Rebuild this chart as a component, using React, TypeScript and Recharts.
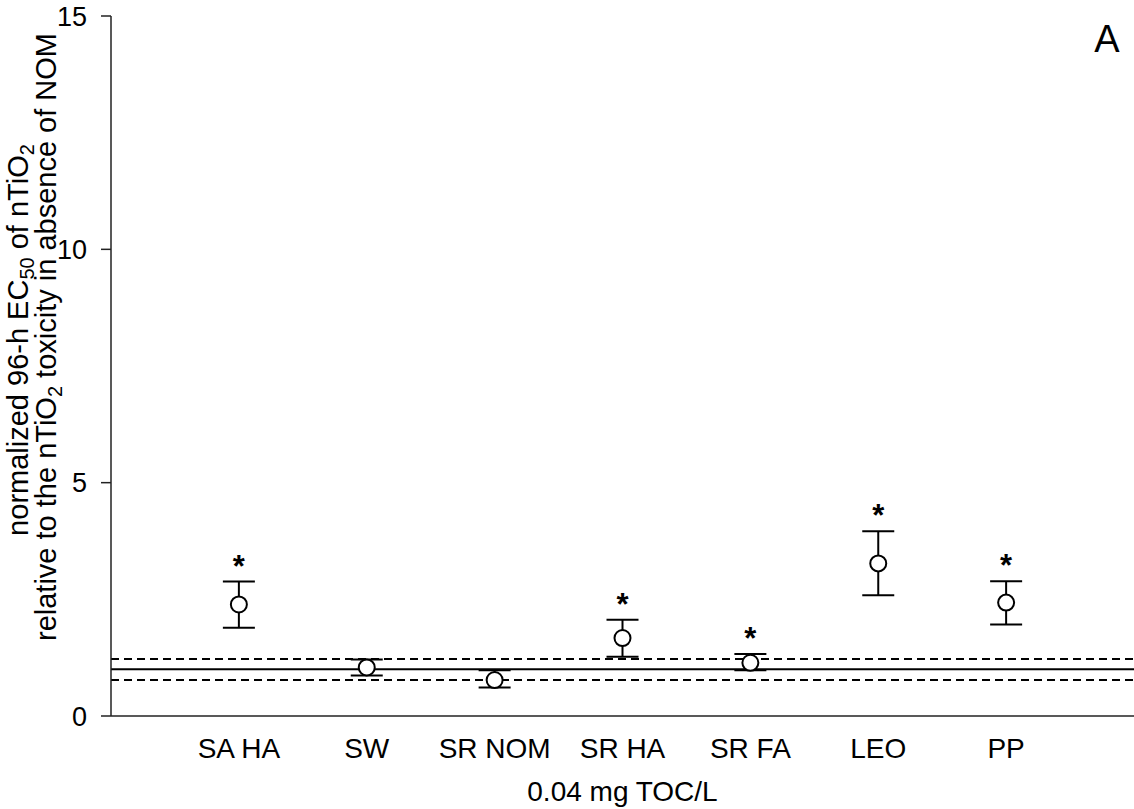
import React from "react";
import {
  ComposedChart,
  Customized,
  ErrorBar,
  ReferenceLine,
  Scatter,
  XAxis,
  YAxis,
} from "recharts";

const categories = ["SA HA", "SW", "SR NOM", "SR HA", "SR FA", "LEO", "PP"];
const means = [2.39, 1.04, 0.77, 1.67, 1.14, 3.27, 2.43];
const lower = [1.89, 0.87, 0.61, 1.27, 0.98, 2.59, 1.96];
const upper = [2.88, 1.21, 0.98, 2.06, 1.33, 3.96, 2.89];
const significant = [true, false, false, true, true, true, true];

// control (no NOM) mean and its interval
const controlMean = 1.0;
const controlBand = [0.77, 1.22];

const yTicks = [0, 5, 10, 15];
const xTicks = categories.map((_, i) => i + 1);

const data = categories.map((name, i) => ({
  pos: i + 1,
  name,
  mean: means[i],
  upper: upper[i],
  sig: significant[i],
  err: [means[i] - lower[i], upper[i] - means[i]],
}));

const font = "'Liberation Sans', Arial, Helvetica, sans-serif";

const OpenCircle = (props: any) => {
  const { cx, cy } = props;
  if (cx == null || cy == null) return null;
  return <circle cx={cx} cy={cy} r={8} fill="#fff" stroke="#000" strokeWidth={2} />;
};

const Star = (props: any) => {
  const { cx, cy, payload } = props;
  if (cx == null || cy == null || !payload?.sig) return <g />;
  return (
    <text x={cx} y={cy - 5} textAnchor="middle" fontFamily={font} fontWeight="bold" fontSize={31} fill="#000">
      *
    </text>
  );
};

const YTitle = () => (
  <g fontFamily={font} fontSize={29} fill="#000">
    <text x={28} y={340} textAnchor="middle" transform="rotate(-90, 28, 340)">
      normalized 96-h EC
      <tspan fontSize={20} dy={6}>50</tspan>
      <tspan dy={-6}> of nTiO</tspan>
      <tspan fontSize={20} dy={6}>2</tspan>
    </text>
    <text x={56} y={337} textAnchor="middle" transform="rotate(-90, 56, 337)">
      relative to the nTiO
      <tspan fontSize={20} dy={6}>2</tspan>
      <tspan dy={-6}> toxicity in absence of NOM</tspan>
    </text>
  </g>
);

const XTitle = (props: any) => {
  const vb = props.viewBox || { x: 0, y: 0, width: 0 };
  return (
    <text x={vb.x + vb.width / 2} y={vb.y + 85} textAnchor="middle" fontFamily={font} fontSize={28} fill="#000">
      0.04 mg TOC/L
    </text>
  );
};

const PanelLetter = () => (
  <text x={1107} y={52} textAnchor="middle" fontFamily={font} fontSize={38} fill="#000">
    A
  </text>
);

export default function App() {
  return (
    <div style={{ position: "absolute", left: 0, top: 0, width: 1134, height: 809, background: "#fff" }}>
      <ComposedChart width={1134} height={809} data={data} margin={{ top: 16, right: 0, bottom: 0, left: 0 }}>
        <XAxis
          dataKey="pos"
          type="number"
          domain={[0, 8]}
          ticks={xTicks}
          tickFormatter={(v: number) => categories[v - 1] ?? ""}
          height={93}
          tickLine={false}
          tickSize={0}
          tickMargin={22}
          axisLine={{ stroke: "#222", strokeWidth: 1.5 }}
          tick={{ fill: "#000", fontSize: 28, fontFamily: font }}
          interval={0}
          label={<XTitle />}
        />
        <YAxis
          type="number"
          domain={[0, 15]}
          ticks={yTicks}
          width={111}
          tickSize={10}
          tickMargin={14}
          axisLine={{ stroke: "#222", strokeWidth: 1.5 }}
          tickLine={{ stroke: "#222", strokeWidth: 1.5 }}
          tick={{ fill: "#000", fontSize: 27, fontFamily: font }}
        />
        <ReferenceLine y={controlBand[1]} stroke="#000" strokeWidth={2} strokeDasharray="8 5" />
        <ReferenceLine y={controlMean} stroke="#000" strokeWidth={2} />
        <ReferenceLine y={controlBand[0]} stroke="#000" strokeWidth={2} strokeDasharray="8 5" />
        <Scatter dataKey="upper" shape={<Star />} isAnimationActive={false} />
        <Scatter dataKey="mean" shape={<OpenCircle />} isAnimationActive={false}>
          <ErrorBar dataKey="err" direction="y" width={16} stroke="#000" strokeWidth={2} />
        </Scatter>
        <Customized component={YTitle} />
        <Customized component={PanelLetter} />
      </ComposedChart>
    </div>
  );
}
